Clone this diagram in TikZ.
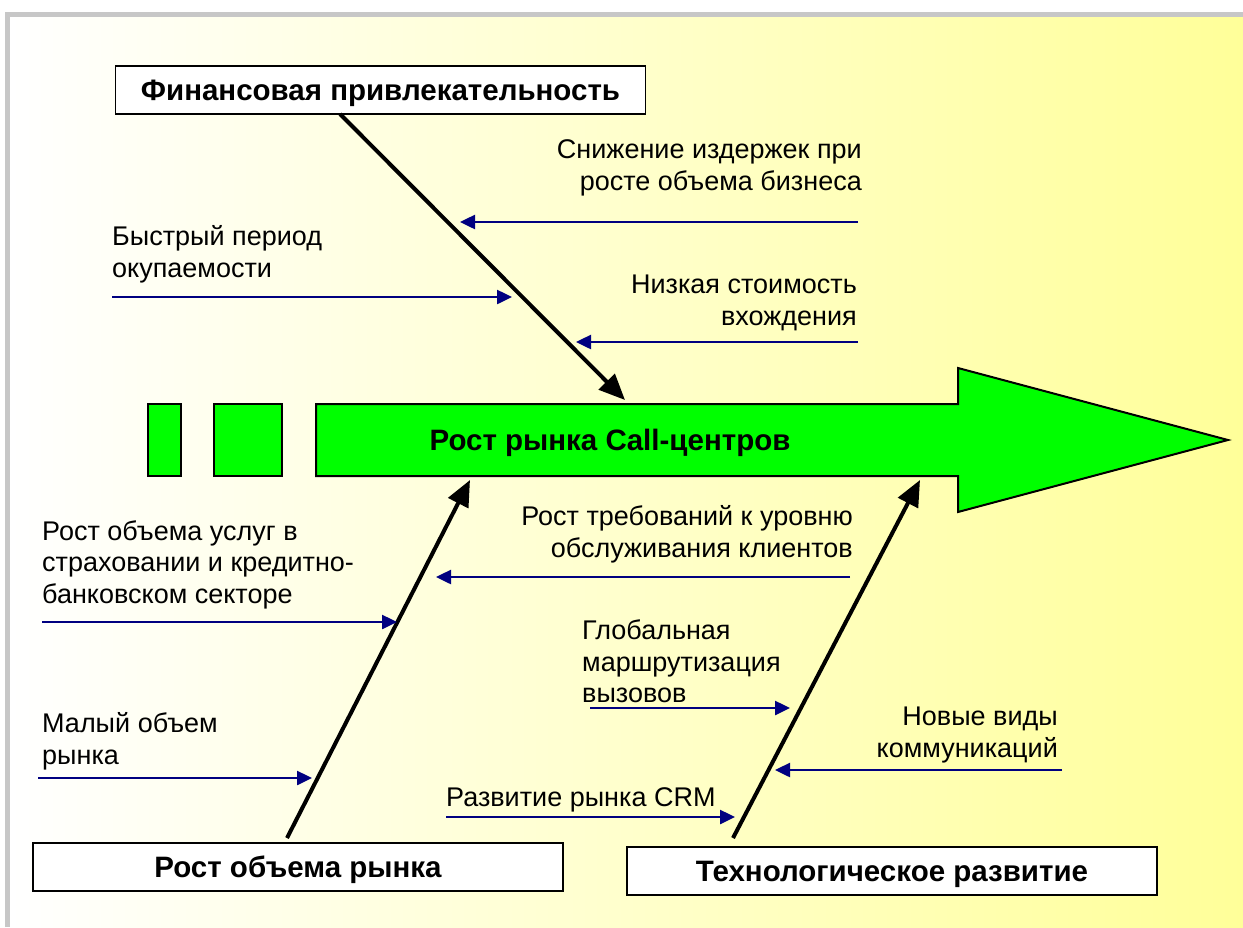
\documentclass[tikz,border=0pt]{standalone}
\usepackage{fontspec}
\setmainfont{Liberation Sans}
\usepackage{tikz}
\usetikzlibrary{arrows.meta, positioning}
\colorlet{colorFrame}{black!22}
\definecolor{colorSpine}{RGB}{0,255,0}
\definecolor{colorFactor}{RGB}{0,0,128}
\definecolor{colorBack}{RGB}{255,255,153}
\tikzset{
  bone/.style={black, line width=4pt, -{Triangle[length=26pt, width=22pt]}},
  factor/.style={colorFactor, line width=2.5pt, -{Triangle[length=15pt, width=14pt]}},
  causebox/.style={draw, fill=white, line width=1.6pt, inner sep=2pt, minimum width=530pt, minimum height=48pt,
    text depth=0pt, font=\fontsize{29.5}{34}\selectfont\bfseries},
  note/.style={font=\fontsize{27}{31.5}\selectfont, inner sep=0pt},
}

\begin{document}
\begin{tikzpicture}[x=1pt, y=-1pt]
\useasboundingbox (0,0) rectangle (1243,927);
\shade[left color=white, right color=colorBack] (10,17) rectangle (1243,927);
\draw[colorFrame, line width=5pt] (7.5,927) -- (7.5,14.5) -- (1243,14.5);

% spine
\draw[fill=colorSpine, line width=2pt] (148,404) rectangle (181,476);
\draw[fill=colorSpine, line width=2pt] (214,404) rectangle (282,476);
\draw[fill=colorSpine, line width=2pt] (316,404) -- (958,404) -- (958,368) -- (1228,440)
  -- (958,512) -- (958,476) -- (316,476) -- cycle;
\node[font=\fontsize{29.5}{34}\selectfont\bfseries] (spine) at (610,443) {Рост рынка Call-центров};

% cause boxes
\node[causebox] (finance) at (380.5,90) {Финансовая привлекательность};
\node[causebox] (market) at (298,867) {Рост объема рынка};
\node[causebox] (tech) at (892,871) {Технологическое развитие};

\coordinate (finTail) at (340,114);
\coordinate (finHead) at (625,400);
\coordinate (marketTail) at (287,838);
\coordinate (marketHead) at (470,480);
\coordinate (techTail) at (733,838);
\coordinate (techHead) at (920,480);
\draw[bone] (finTail) -- (finHead);
\draw[bone] (marketTail) -- (marketHead);
\draw[bone] (techTail) -- (techHead);

% factors
\coordinate (costTail) at (858,222);
\coordinate (costHead) at (460,222);
\coordinate (paybackTail) at (112,297);
\coordinate (paybackHead) at (512,297);
\coordinate (entryTail) at (858,342);
\coordinate (entryHead) at (576,342);
\coordinate (insurTail) at (42,622);
\coordinate (insurHead) at (397,622);
\coordinate (serviceTail) at (850,577);
\coordinate (serviceHead) at (436,577);
\coordinate (routeTail) at (590,708);
\coordinate (routeHead) at (790,708);
\coordinate (smallTail) at (38,778);
\coordinate (smallHead) at (312,778);
\coordinate (commTail) at (1062,770);
\coordinate (commHead) at (775,770);
\coordinate (crmTail) at (446,817);
\coordinate (crmHead) at (735,817);

\draw[factor] (costTail) -- (costHead);
\draw[factor] (paybackTail) -- (paybackHead);
\draw[factor] (entryTail) -- (entryHead);
\draw[factor] (insurTail) -- (insurHead);
\draw[factor] (serviceTail) -- (serviceHead);
\draw[factor] (routeTail) -- (routeHead);
\draw[factor] (smallTail) -- (smallHead);
\draw[factor] (commTail) -- (commHead);
\draw[factor] (crmTail) -- (crmHead);

\node[note, align=right, above left=26pt and -4pt of costTail] (cost) {Снижение издержек при\\росте объема бизнеса};
\node[note, align=left, above right=14pt and 0pt of paybackTail] (payback) {Быстрый период\\окупаемости};
\node[note, align=right, above left=11pt and 1pt of entryTail] (entry) {Низкая стоимость\\вхождения};
\node[note, align=left, above right=13pt and 0pt of insurTail] (insur) {Рост объема услуг в\\страховании и кредитно-\\банковском секторе};
\node[note, align=right, above left=14pt and -3pt of serviceTail] (service) {Рост требований к уровню\\обслуживания клиентов};
\node[note, align=left, above right=5pt and -8pt of routeTail] (route) {Глобальная\\маршрутизация\\вызовов};
\node[note, align=left, above right=8pt and 4pt of smallTail] (small) {Малый объем\\рынка};
\node[note, align=right, above left=7pt and 4pt of commTail] (comm) {Новые виды\\коммуникаций};
\node[note, align=left, above right=5pt and 0pt of crmTail] (crm) {Развитие рынка CRM};
\end{tikzpicture}
\end{document}
